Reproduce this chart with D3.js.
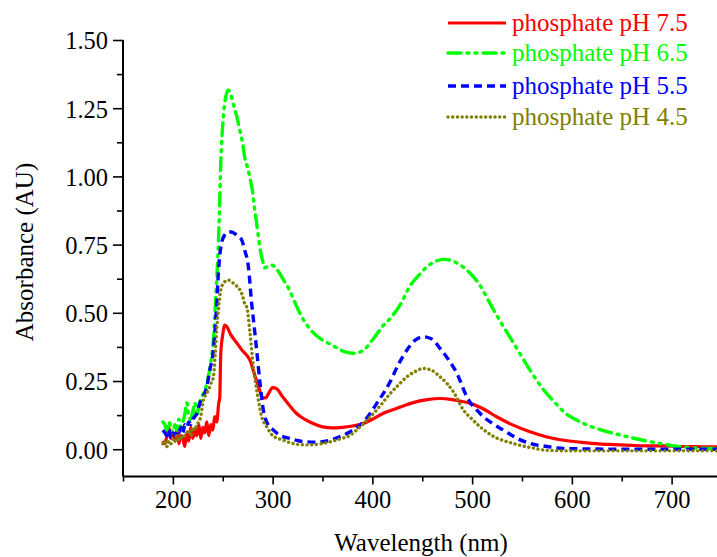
<!DOCTYPE html>
<html>
<head>
<meta charset="utf-8">
<script src="https://cdn.jsdelivr.net/npm/d3@7"></script>
<style>
  body { margin: 0; background: #fff; }
  svg text { font-family: "Liberation Serif", "Times New Roman", "DejaVu Serif", serif; }
</style>
</head>
<body>
<div class="graph_container"></div>
<script>
// absorbance spectra
const wlRed = [190,192,194,196,198,200,202,204,206,208,210,212,214,216,218,220,222,224,226,228,230,232,234,236,238,240,242,244,246,247,248,250,252,254,258,264,270,274,278,281,284,287,290,293,296,300,304,310,317,324,332,340,350,360,370,380,391,400,410,424,440,455,468,480,490,498,510,525,540,558,575,592,610,630,642,660,680,692,710,730,750];
const absRed = [0.03,0.02,0.05,0.08,0.04,0.06,0.03,0.07,0.02,0.05,0.04,0.01,0.06,0.03,0.08,0.04,0.07,0.05,0.09,0.04,0.08,0.06,0.10,0.05,0.09,0.07,0.12,0.10,0.17,0.19,0.35,0.42,0.455,0.45,0.42,0.39,0.36,0.345,0.32,0.284,0.25,0.216,0.19,0.188,0.205,0.226,0.222,0.192,0.16,0.131,0.11,0.095,0.082,0.078,0.08,0.085,0.094,0.11,0.13,0.149,0.17,0.182,0.186,0.182,0.175,0.168,0.15,0.118,0.09,0.064,0.045,0.033,0.025,0.019,0.017,0.014,0.012,0.012,0.01,0.009,0.008];

const wlGreen = [190,192,194,196,198,200,202,204,206,208,210,212,214,216,218,220,222,224,226,230,234,238,241,243,245,246.5,248,250,252,255.6,258,261,264,267,270,272,275,277,280,282,285,287,290,292,295,299,303,307,311,316,322,330,340,350,358,365,372,381,390,401,410,418,428,438,446,455,463,471,478,485,492,498,508,518,528,538,548,558,572,582,592,612,630,642,660,675,690,709,730,750];
const absGreen = [0.10,0.09,0.07,0.10,0.08,0.06,0.09,0.07,0.11,0.08,0.10,0.13,0.17,0.12,0.11,0.14,0.17,0.12,0.16,0.20,0.24,0.32,0.42,0.56,0.70,0.85,1.05,1.19,1.27,1.317,1.30,1.26,1.22,1.17,1.12,1.07,1.03,1.00,0.94,0.88,0.80,0.745,0.69,0.665,0.67,0.675,0.665,0.645,0.62,0.59,0.54,0.48,0.43,0.40,0.385,0.37,0.358,0.352,0.36,0.405,0.45,0.48,0.53,0.60,0.635,0.67,0.688,0.696,0.693,0.682,0.665,0.645,0.60,0.534,0.47,0.41,0.35,0.29,0.216,0.175,0.137,0.094,0.07,0.058,0.042,0.03,0.02,0.009,0.004,0.003];

const wlBlue = [190,192,194,196,198,200,202,204,206,208,210,212,214,216,218,220,222,224,227,230,234,237,240.6,242.5,244,245.6,247,249,252,256.6,260,264,269,272,275.7,279,281.5,284,287.4,290.7,294,300.8,308,317.5,326,334,345,357.6,367,377.7,391,404.4,417.8,426,434.5,443,451.2,459,468,476,484.7,494.7,508,520,531.4,545,558,575,591.6,620,660,700,750];
const absBlue = [0.07,0.06,0.05,0.07,0.04,0.06,0.05,0.07,0.06,0.08,0.06,0.09,0.08,0.10,0.09,0.11,0.12,0.13,0.168,0.19,0.229,0.29,0.363,0.45,0.534,0.645,0.71,0.76,0.785,0.797,0.795,0.785,0.767,0.73,0.669,0.534,0.45,0.363,0.241,0.143,0.10,0.07,0.05,0.039,0.031,0.027,0.026,0.033,0.045,0.064,0.10,0.168,0.247,0.31,0.363,0.40,0.412,0.405,0.369,0.33,0.278,0.192,0.131,0.095,0.07,0.04,0.021,0.01,0.003,0.001,0.0,0.0,0.0];

const wlOlive = [190,192,194,196,198,200,202,204,206,208,210,212,214,216,218,220,222,224,226,228,230.5,233,236,238,240.6,242.5,244,245.6,248,251,255.6,260,264,267.4,270,272.4,274,277.4,280.7,283,285.7,289,294.1,300,310.8,319,327.5,337,347,357.6,367,377.7,387,397.8,408,417.8,426,434.5,443,451.2,459,468,475,481.3,491.4,500,508,520,541.3,560,574.7,600,650,700,750];
const absOlive = [0.02,0.03,0.01,0.03,0.02,0.04,0.03,0.05,0.03,0.05,0.04,0.05,0.06,0.07,0.05,0.08,0.07,0.09,0.10,0.12,0.18,0.20,0.22,0.24,0.265,0.35,0.44,0.51,0.583,0.61,0.62,0.61,0.598,0.583,0.56,0.528,0.522,0.424,0.302,0.24,0.18,0.12,0.082,0.05,0.033,0.022,0.017,0.016,0.019,0.027,0.037,0.051,0.08,0.118,0.16,0.204,0.235,0.265,0.285,0.296,0.29,0.265,0.24,0.21,0.143,0.11,0.082,0.05,0.021,0.005,-0.004,-0.006,-0.006,-0.006,-0.006];

const seriesNames = ['phosphate pH 7.5', 'phosphate pH 6.5', 'phosphate pH 5.5', 'phosphate pH 4.5'];
const yTicks = [0, 0.25, 0.5, 0.75, 1.0, 1.25, 1.5];
const xTicks = [200, 300, 400, 500, 600, 700];

const width = 717, height = 557;
const serif = '"Liberation Serif", "Times New Roman", "DejaVu Serif", serif';

const series = [
  { name: seriesNames[0], wl: wlRed, abs: absRed, color: '#ff0000', dash: null, w: 3.2, cap: 'butt' },
  { name: seriesNames[1], wl: wlGreen, abs: absGreen, color: '#00ff00', dash: '13,6,2,6,2,6', w: 3.4, cap: 'round' },
  { name: seriesNames[2], wl: wlBlue, abs: absBlue, color: '#0000ff', dash: '8,5', w: 3.4, cap: 'butt' },
  { name: seriesNames[3], wl: wlOlive, abs: absOlive, color: '#808000', dash: '0.1,4.6', w: 3.4, cap: 'round' }
];

const svg = d3.select('.graph_container').append('svg')
  .attr('width', width)
  .attr('height', height)
  .attr('font-family', serif);

const x = d3.scaleLinear().domain([150, 750]).range([123, 721.5]);
const y = d3.scaleLinear().domain([-0.1, 1.5]).range([476.5, 40]);

// minor ticks every half step
const xAxis = d3.axisBottom(x)
  .tickValues(d3.range(150, 751, 50))
  .tickSize(8)
  .tickFormat(d => xTicks.includes(d) ? d : '');
const yAxis = d3.axisLeft(y)
  .tickValues(d3.range(0, 1.5001, 0.125))
  .tickSize(10)
  .tickFormat(d => yTicks.some(t => Math.abs(t - d) < 1e-6) ? d3.format('.2f')(d) : '');

const gx = svg.append('g')
  .attr('transform', 'translate(0,476.5)')
  .call(xAxis)
  .attr('font-family', serif)
  .attr('font-size', 24.5);
gx.select('.domain').attr('d', 'M123,0H' + width).attr('stroke-width', 2);
gx.selectAll('.tick line').attr('stroke-width', 1.6)
  .attr('y2', d => xTicks.includes(d) ? 8 : 5);
gx.selectAll('.tick text')
  .attr('y', 14)
  .attr('fill', '#000');

const gy = svg.append('g')
  .attr('transform', 'translate(123,0)')
  .call(yAxis)
  .attr('font-family', serif)
  .attr('font-size', 24.5);
gy.select('.domain').attr('d', 'M0,40V476.5').attr('stroke-width', 2);
gy.selectAll('.tick line').attr('stroke-width', 1.6)
  .attr('x2', d => yTicks.some(t => Math.abs(t - d) < 1e-6) ? -10 : -6);
gy.selectAll('.tick text')
  .attr('x', -15)
  .attr('dy', '0.36em')
  .attr('fill', '#000');

// axis titles
svg.append('text')
  .attr('x', 421)
  .attr('y', 551)
  .attr('text-anchor', 'middle')
  .attr('font-size', 25)
  .text('Wavelength (nm)');
svg.append('text')
  .attr('transform', 'translate(33,252) rotate(-90)')
  .attr('text-anchor', 'middle')
  .attr('font-size', 25)
  .text('Absorbance (AU)');

const line = d3.line()
  .x(d => x(d[0]))
  .y(d => y(d[1]))
  .curve(d3.curveMonotoneX);

series.forEach(function (s) {
  const pts = s.wl.map((w, i) => [w, s.abs[i]]);
  svg.append('path')
    .datum(pts)
    .attr('fill', 'none')
    .attr('stroke', s.color)
    .attr('stroke-width', s.w)
    .attr('stroke-linecap', s.cap)
    .attr('stroke-linejoin', 'round')
    .attr('stroke-dasharray', s.dash)
    .attr('d', line);
});

// legend
const legend = svg.selectAll('.legend')
  .data(series)
  .enter().append('g')
  .attr('class', 'legend')
  .attr('transform', (d, i) => 'translate(0,' + [23, 53, 86, 117][i] + ')');
legend.append('line')
  .attr('x1', 448).attr('x2', 506)
  .attr('stroke', d => d.color)
  .attr('stroke-width', d => d.w)
  .attr('stroke-linecap', d => d.cap)
  .attr('stroke-dasharray', d => d.dash);
legend.append('text')
  .attr('x', 512)
  .attr('y', 8)
  .attr('font-size', 25)
  .attr('fill', d => d.color)
  .text(d => d.name);
</script>
</body>
</html>
